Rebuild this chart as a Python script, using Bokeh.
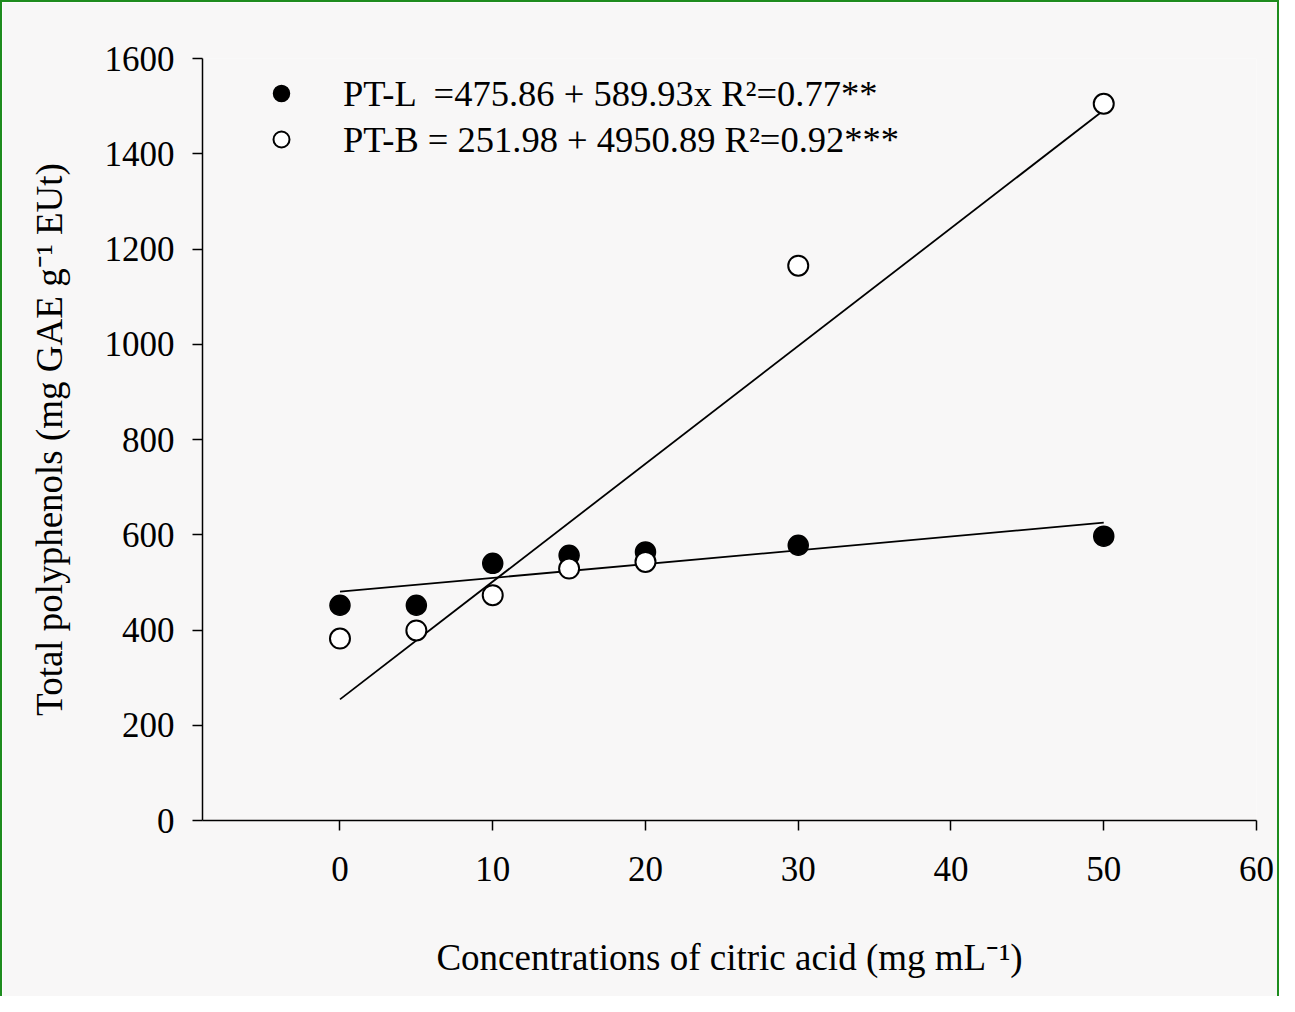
import numpy as np
from bokeh.plotting import figure
from bokeh.models import Range1d, FixedTicker, Legend, LegendItem
from bokeh.embed import file_html
from bokeh.resources import INLINE

# ---- data ----
conc = [0, 5, 10, 15, 20, 30, 50]
pt_l = [452, 452, 540, 557, 564, 578, 597]
pt_b = [382, 399, 473, 529, 543, 1165, 1505]
label_l = "PT-L  =475.86 + 589.93x R\u00b2=0.77**"
label_b = "PT-B = 251.98 + 4950.89 R\u00b2=0.92***"
x_ticks = [0, 10, 20, 30, 40, 50, 60]
y_ticks = [0, 200, 400, 600, 800, 1000, 1200, 1400, 1600]

FONT = "Liberation Serif"

p = figure(width=1279, height=996, output_backend="svg", toolbar_location=None,
           x_range=Range1d(-9, 60), y_range=Range1d(0, 1600),
           min_border_left=200, min_border_right=25, min_border_top=56,
           min_border_bottom=178)
p.background_fill_color = "#f8f7f7"
p.border_fill_color = "#f8f7f7"
p.outline_line_color = None
p.grid.visible = False
p.styles = {"border-top": "2px solid #1e8c1e", "border-left": "2px solid #1e8c1e",
            "border-right": "2px solid #1e8c1e"}

for ax in (p.xaxis[0], p.yaxis[0]):
    ax.axis_line_color = "black"
    ax.axis_line_width = 1.5
    ax.major_tick_line_color = "black"
    ax.major_tick_line_width = 1.5
    ax.major_tick_in = 0
    ax.major_tick_out = 10
    ax.minor_tick_line_color = None
    ax.major_label_text_font = FONT
    ax.major_label_text_font_size = "35px"
    ax.major_label_text_color = "black"
    ax.axis_label_text_font = FONT
    ax.axis_label_text_font_size = "37px"
    ax.axis_label_text_font_style = "normal"
    ax.axis_label_text_color = "black"

p.xaxis.ticker = FixedTicker(ticks=x_ticks)
p.yaxis.ticker = FixedTicker(ticks=y_ticks)
p.xaxis.major_label_standoff = 26
p.yaxis.major_label_standoff = 18
p.xaxis.axis_label = "Concentrations of citric acid (mg mL\u207b\u00b9)"
p.yaxis.axis_label = "Total polyphenols (mg GAE g\u207b\u00b9 EUt)"
p.xaxis.axis_label_standoff = 53
p.yaxis.axis_label_standoff = 32

# regression lines fitted to the points
xs_line = np.array([0, 50])
for ys in (pt_l, pt_b):
    k, b = np.polyfit(conc, ys, 1)
    p.line(xs_line, k * xs_line + b, line_color="black", line_width=1.8)

r_l = p.scatter(conc, pt_l, size=20, fill_color="black", line_color="black", line_width=1.5)
r_b = p.scatter(conc, pt_b, size=20, fill_color="white", line_color="black", line_width=2)

legend = Legend(items=[LegendItem(label=label_l, renderers=[r_l]),
                       LegendItem(label=label_b, renderers=[r_b])],
                location=(59, 658), padding=0, margin=0, spacing=0,
                glyph_width=40, glyph_height=46, label_height=46,
                label_standoff=42, label_text_font=FONT,
                label_text_font_size="36.5px", label_text_color="black",
                border_line_color=None, background_fill_alpha=0)
p.add_layout(legend, "center")

open("out.html", "w").write(file_html(p, INLINE))
